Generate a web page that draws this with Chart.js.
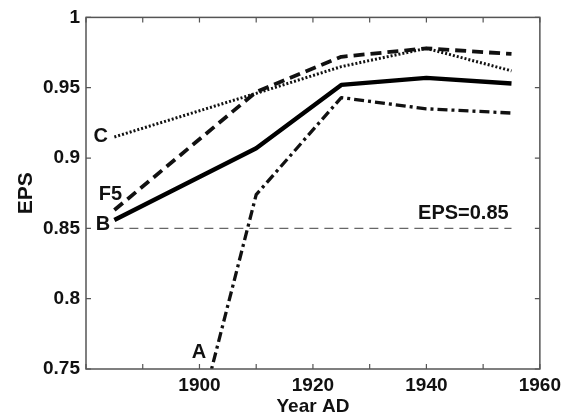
<!DOCTYPE html>
<html>
<head>
<meta charset="utf-8">
<script src="https://cdn.jsdelivr.net/npm/chart.js@4"></script>
<style>
html,body{margin:0;padding:0;background:#fff;}
canvas{display:block;}
</style>
</head>
<body>
<canvas id="c" width="566" height="412"></canvas>
<script>
// ---- data ----
const years = [1885, 1910, 1925, 1940, 1955];
const seriesA = [0.48, 0.874, 0.943, 0.935, 0.932];
const seriesB = [0.856, 0.907, 0.952, 0.957, 0.953];
const seriesC = [0.915, 0.946, 0.965, 0.978, 0.962];
const seriesF5 = [0.863, 0.947, 0.972, 0.978, 0.974];
const thresholdYears = [1885, 1955];
const thresholdValue = 0.85;
const xTickLabels = [1900, 1920, 1940, 1960];
const seriesLabels = [
  {text: 'C',  x: 1882.6, y: 0.915, align: 'center'},
  {text: 'F5', x: 1884.3, y: 0.874, align: 'center'},
  {text: 'B',  x: 1883.0, y: 0.853, align: 'center'},
  {text: 'A',  x: 1899.9, y: 0.762, align: 'center'},
  {text: 'EPS=0.85', x: 1954.5, y: 0.8605, align: 'right'}
];

const pts = (xs, ys) => xs.map((x, i) => ({x: x, y: ys[i]}));
const FONT = 'Liberation Sans, Arial, sans-serif';

const framePlugin = {
  id: 'frame',
  afterDatasetsDraw(chart) {
    const {ctx, chartArea: a, scales} = chart;
    ctx.save();
    // series text labels
    ctx.fillStyle = '#111';
    ctx.font = 'bold 20px ' + FONT;
    ctx.textBaseline = 'middle';
    seriesLabels.forEach(l => {
      ctx.textAlign = l.align;
      ctx.fillText(l.text, scales.x.getPixelForValue(l.x), scales.y.getPixelForValue(l.y));
    });
    // frame
    ctx.strokeStyle = '#555';
    ctx.lineWidth = 1.5;
    ctx.strokeRect(a.left, a.top, a.right - a.left, a.bottom - a.top);
    // inward ticks
    const tl = 5;
    ctx.lineWidth = 1.2;
    ctx.beginPath();
    scales.x.ticks.forEach(t => {
      const px = scales.x.getPixelForValue(t.value);
      ctx.moveTo(px, a.bottom); ctx.lineTo(px, a.bottom - tl);
      ctx.moveTo(px, a.top); ctx.lineTo(px, a.top + tl);
    });
    scales.y.ticks.forEach(t => {
      const py = scales.y.getPixelForValue(t.value);
      ctx.moveTo(a.left, py); ctx.lineTo(a.left + tl, py);
      ctx.moveTo(a.right, py); ctx.lineTo(a.right - tl, py);
    });
    ctx.stroke();
    ctx.restore();
  }
};

new Chart(document.getElementById('c'), {
  type: 'line',
  data: {
    datasets: [
      {label: 'EPS=0.85', data: pts(thresholdYears, [thresholdValue, thresholdValue]),
        borderColor: '#666', borderWidth: 1.3, borderDash: [9, 6], pointRadius: 0},
      {label: 'C', data: pts(years, seriesC),
        borderColor: '#111', borderWidth: 3, borderDash: [2, 2], pointRadius: 0},
      {label: 'F5', data: pts(years, seriesF5),
        borderColor: '#111', borderWidth: 3.8, borderDash: [11, 6], pointRadius: 0},
      {label: 'A', data: pts(years, seriesA),
        borderColor: '#111', borderWidth: 3.3, borderDash: [10, 4, 3, 4], pointRadius: 0},
      {label: 'B', data: pts(years, seriesB),
        borderColor: '#000', borderWidth: 4.4, pointRadius: 0}
    ]
  },
  options: {
    responsive: false,
    animation: false,
    events: [],
    layout: {padding: {top: 14, right: 26, left: 0, bottom: 0}},
    plugins: {legend: {display: false}, tooltip: {enabled: false}},
    elements: {line: {tension: 0, borderCapStyle: 'butt', borderJoinStyle: 'round'}},
    scales: {
      x: {
        type: 'linear', min: 1880, max: 1960,
        grid: {display: false, drawTicks: false},
        border: {display: false},
        ticks: {
          stepSize: 10, padding: 5, color: '#111',
          font: {family: FONT, size: 19, weight: 'bold'},
          maxRotation: 0, autoSkip: false,
          callback: v => xTickLabels.includes(v) ? String(v) : ''
        },
        title: {display: true, text: 'Year AD', color: '#111',
          font: {family: FONT, size: 19, weight: 'bold'}, padding: {top: 0, bottom: -6}},
        afterFit: s => { s.height = 43; }
      },
      y: {
        type: 'linear', min: 0.75, max: 1,
        grid: {display: false, drawTicks: false},
        border: {display: false},
        ticks: {
          stepSize: 0.05, padding: 6, color: '#111',
          font: {family: FONT, size: 19, weight: 'bold'},
          callback: v => String(Number(v.toFixed(2)))
        },
        title: {display: true, text: 'EPS', color: '#111',
          font: {family: FONT, size: 21, weight: 'bold'}, padding: {top: 14, bottom: 0}},
        afterFit: s => { s.width = 86; }
      }
    }
  },
  plugins: [framePlugin]
});
</script>
</body>
</html>
